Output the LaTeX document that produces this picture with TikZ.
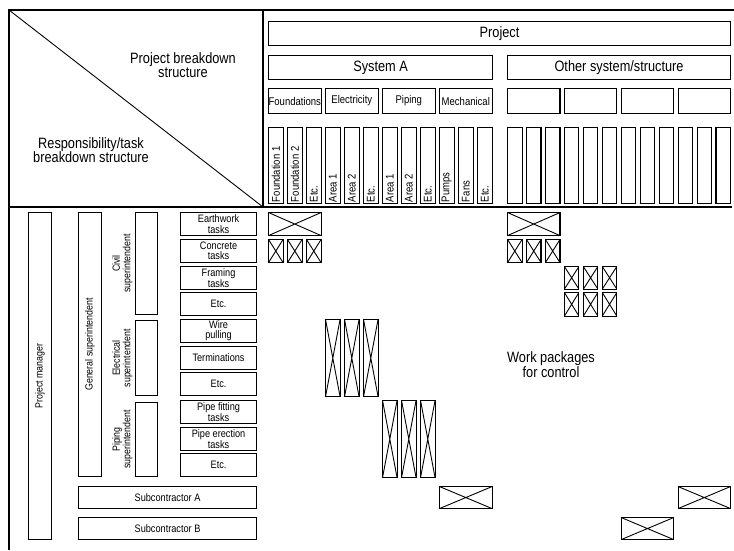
\documentclass[tikz,border=0pt]{standalone}
\usepackage{fontspec}
\setmainfont[FakeStretch=0.85]{Liberation Sans}
\usetikzlibrary{calc}
\newcommand\fbig{\fontsize{15}{14.5}\selectfont}
\newcommand\fhead{\fontsize{15}{15}\selectfont}
\newcommand\fmid{\fontsize{11.2}{11}\selectfont}
\newcommand\fsmall{\fontsize{10.8}{10.2}\selectfont}
\newcommand\fvert{\fontsize{10.4}{10.4}\selectfont}
\begin{document}
\begin{tikzpicture}[x=1pt,y=-1pt,line width=1.1pt,
  bx/.style={draw, anchor=north west, inner sep=0pt, align=center},
  xb/.style={draw, anchor=north west, inner sep=0pt,
    path picture={\draw[line width=0.9pt]
      (path picture bounding box.north west) -- (path picture bounding box.south east)
      (path picture bounding box.north east) -- (path picture bounding box.south west);}},
  lbl/.style={inner sep=0pt, align=center}]
\useasboundingbox (0,0) rectangle (734,550);
% frame
\coordinate (tl) at (9,10);
\coordinate (tr) at (734,10);
\coordinate (bl) at (9,550);
\coordinate (ml) at (9,207);
\coordinate (mr) at (732,207);
\coordinate (dt) at (263,10);
\coordinate (db) at (263,207);
\draw (bl) -- (tl) -- (tr);
\draw (ml) -- (mr);
\draw (dt) -- (db);
\draw[line width=0.9pt] (tl) -- (db);
\node[lbl, font=\fbig] (pbs) at (183,65) {Project breakdown\\structure};
\node[lbl, font=\fbig] (rbs) at (91,150) {Responsibility/task\\breakdown structure};
% header boxes
\node[bx, minimum width=462, minimum height=24, font=\fhead] (proj) at (268,21) {Project};
\node[bx, minimum width=224, minimum height=24, font=\fhead] (sysa) at (268,55) {System A};
\node[bx, minimum width=223, minimum height=24, font=\fhead] (oth) at (507,55) {Other system/structure};
\foreach \lab [count=\k from 0] in {Foundations, Electricity, Piping, Mechanical} {
  \pgfmathsetmacro\xx{268+57*\k}
  \node[bx, minimum width=52.5, minimum height=25, font=\fmid] (lg\k) at (\xx,88) {\lab};
}
\foreach \k in {0,...,3} {
  \pgfmathsetmacro\xx{507+56.85*\k}
  \node[bx, minimum width=52.4, minimum height=25] (rg\k) at (\xx,88) {};
}
\foreach \lab [count=\i from 0] in {Foundation 1, Foundation 2, Etc., Area 1, Area 2, Etc., Area 1, Area 2, Etc., Pumps, Fans, Etc.} {
  \pgfmathsetmacro\xx{268+19*\i}
  \node[bx, minimum width=14.5, minimum height=76] (lc\i) at (\xx,127) {};
  \node[inner sep=1.5pt, rotate=90, anchor=west, font=\fmid] (lt\i) at (lc\i.south) {\lab};
}
\foreach \j in {0,...,11} {
  \pgfmathsetmacro\xx{507+18.95*\j}
  \node[bx, minimum width=14.5, minimum height=76] (rc\j) at (\xx,127) {};
}
% lower left structure
\node[bx, minimum width=23, minimum height=327] (pm) at (28,212) {};
\node[lbl, rotate=90, font=\fvert] (pmt) at (pm.center) {Project manager};
\node[bx, minimum width=23, minimum height=264] (gs) at (78,212) {};
\node[lbl, rotate=90, font=\fvert] (gst) at (gs.center) {General superintendent};
\node[bx, minimum width=22, minimum height=102] (cs) at (135,212) {};
\node[lbl, rotate=90, font=\fvert] (cst) at ($(cs.west)+(-12.5,0)$) {Civil\\superintendent};
\node[bx, minimum width=22, minimum height=75] (es) at (135,320) {};
\node[lbl, rotate=90, font=\fvert] (est) at ($(es.west)+(-12.5,0)$) {Electrical\\superintendent};
\node[bx, minimum width=22, minimum height=74] (ps) at (135,402) {};
\node[lbl, rotate=90, font=\fvert] (pst) at ($(ps.west)+(-12.5,0)$) {Piping\\superintendent};
% tasks
\tikzset{task/.style={bx, minimum width=76, minimum height=23, font=\fsmall}}
\node[task] (t1) at (180,212) {Earthwork\\tasks};
\node[task] (t2) at (180,239) {Concrete\\tasks};
\node[task] (t3) at (180,266) {Framing\\tasks};
\node[task] (t4) at (180,292) {Etc.};
\node[task] (t5) at (180,319) {Wire\\pulling};
\node[task] (t6) at (180,346) {Terminations};
\node[task] (t7) at (180,372) {Etc.};
\node[task] (t8) at (180,400) {Pipe fitting\\tasks};
\node[task] (t9) at (180,427) {Pipe erection\\tasks};
\node[task] (t10) at (180,453) {Etc.};
\node[bx, minimum width=178, minimum height=22, font=\fsmall] (sa) at (78,486) {Subcontractor A};
\node[bx, minimum width=178, minimum height=22, font=\fsmall] (sb) at (78,517) {Subcontractor B};
% work packages
\node[xb, minimum width=52.5, minimum height=23] (w1) at (268,212) {};
\node[xb, minimum width=52.4, minimum height=23] (w2) at (507,212) {};
\foreach \i in {0,1,2} {
  \pgfmathsetmacro\xa{268+19*\i}
  \pgfmathsetmacro\xb{507+18.95*\i}
  \pgfmathsetmacro\xc{507+18.95*(\i+3)}
  \pgfmathsetmacro\xd{268+19*(\i+3)}
  \pgfmathsetmacro\xe{268+19*(\i+6)}
  \node[xb, minimum width=14.5, minimum height=23] (wc\i) at (\xa,239) {};
  \node[xb, minimum width=14.5, minimum height=23] (wo\i) at (\xb,239) {};
  \node[xb, minimum width=14.5, minimum height=22.5] (wf\i) at (\xc,266) {};
  \node[xb, minimum width=14.5, minimum height=23.5] (we\i) at (\xc,292) {};
  \node[xb, minimum width=14.5, minimum height=77] (wl\i) at (\xd,319) {};
  \node[xb, minimum width=14.5, minimum height=77] (wp\i) at (\xe,400) {};
}
\node[xb, minimum width=52.5, minimum height=22] (ws1) at (439,486) {};
\node[xb, minimum width=52.4, minimum height=22] (ws2) at (677.55,486) {};
\node[xb, minimum width=52.4, minimum height=22] (ws3) at (620.7,517) {};
\node[lbl, font=\fbig] (wpc) at (551,364.5) {Work packages\\for control};
\end{tikzpicture}
\end{document}
